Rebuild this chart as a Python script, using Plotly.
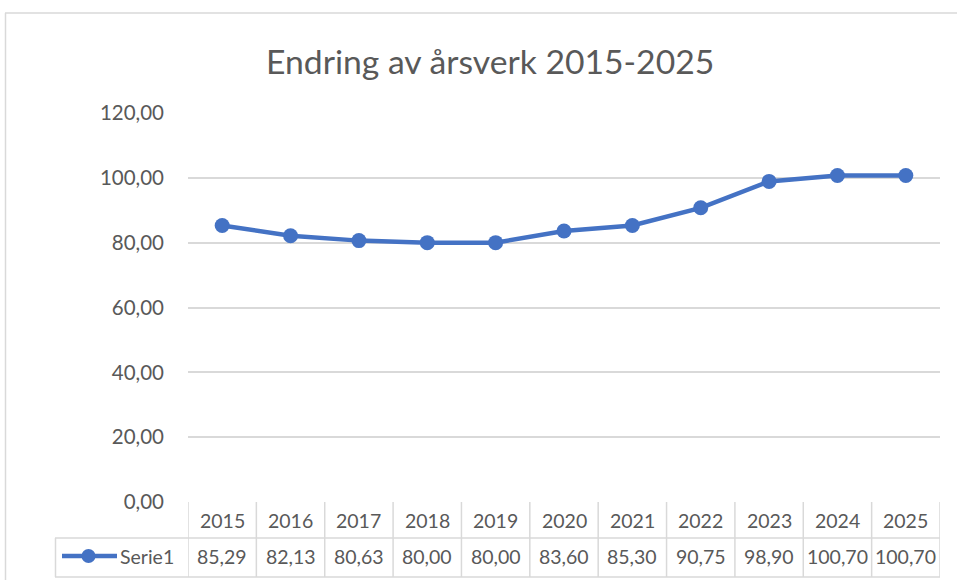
import plotly.graph_objects as go

years = ["2015", "2016", "2017", "2018", "2019", "2020", "2021", "2022", "2023", "2024", "2025"]
values = [85.29, 82.13, 80.63, 80.00, 80.00, 83.60, 85.30, 90.75, 98.90, 100.70, 100.70]
value_labels = ["85,29", "82,13", "80,63", "80,00", "80,00", "83,60", "85,30", "90,75", "98,90", "100,70", "100,70"]
series_name = "Serie1"
title = "Endring av årsverk 2015-2025"

W, H = 957, 580
BLUE = "#4472C4"
TXT = "#595959"
GRID = "#D9D9D9"
FONT = "Lato, Calibri, sans-serif"

def px_x(p):
    return p / W

def px_y(p):
    return 1 - p / H

x_idx = list(range(len(years)))

fig = go.Figure()
fig.add_trace(go.Scatter(
    x=x_idx, y=values, mode="lines+markers",
    line=dict(color=BLUE, width=4.5),
    marker=dict(color=BLUE, size=15),
    name=series_name, showlegend=False, hoverinfo="y",
))

shapes = []
# outer chart border (cropped)
shapes.append(dict(type="line", xref="paper", yref="paper", x0=px_x(5), x1=1.0, y0=px_y(13), y1=px_y(13),
                   line=dict(color=GRID, width=1.5)))
shapes.append(dict(type="line", xref="paper", yref="paper", x0=px_x(5.5), x1=px_x(5.5), y0=px_y(13), y1=0,
                   line=dict(color=GRID, width=1.5)))

y_top_tab = px_y(502)
y_mid_tab = px_y(538)
y_bot_tab = px_y(577)
n = len(years)
# horizontal table lines
shapes.append(dict(type="line", xref="x", yref="paper", x0=-0.5, x1=n - 0.5, y0=y_mid_tab, y1=y_mid_tab,
                   line=dict(color=GRID, width=1.5)))
shapes.append(dict(type="line", xref="x", yref="paper", x0=-0.5, x1=n - 0.5, y0=y_bot_tab, y1=y_bot_tab,
                   line=dict(color=GRID, width=1.5)))
# legend cell
shapes.append(dict(type="line", xref="paper", yref="paper", x0=px_x(55), x1=px_x(188), y0=y_mid_tab, y1=y_mid_tab,
                   line=dict(color=GRID, width=1.5)))
shapes.append(dict(type="line", xref="paper", yref="paper", x0=px_x(55), x1=px_x(188), y0=y_bot_tab, y1=y_bot_tab,
                   line=dict(color=GRID, width=1.5)))
shapes.append(dict(type="line", xref="paper", yref="paper", x0=px_x(55.5), x1=px_x(55.5), y0=y_mid_tab, y1=y_bot_tab,
                   line=dict(color=GRID, width=1.5)))
# vertical table lines
for k in range(n + 1):
    shapes.append(dict(type="line", xref="x", yref="paper", x0=k - 0.5, x1=k - 0.5, y0=y_top_tab, y1=y_bot_tab,
                       line=dict(color=GRID, width=1.5)))
# legend key
ly = px_y(556)
shapes.append(dict(type="line", xref="paper", yref="paper", x0=px_x(62), x1=px_x(117), y0=ly, y1=ly,
                   line=dict(color=BLUE, width=4.5)))
shapes.append(dict(type="circle", xref="paper", yref="paper", x0=px_x(81.5), x1=px_x(95.5), y0=px_y(563), y1=px_y(549),
                   fillcolor=BLUE, line=dict(color=BLUE, width=0)))

annotations = []
annotations.append(dict(text=title, xref="paper", yref="paper", x=px_x(490.5), y=px_y(61),
                        showarrow=False, xanchor="center", yanchor="middle",
                        font=dict(size=33.7, color=TXT, family=FONT)))
for i, (yr, vl) in enumerate(zip(years, value_labels)):
    annotations.append(dict(text=yr, xref="x", yref="paper", x=i, y=px_y(520), showarrow=False,
                            xanchor="center", yanchor="middle", font=dict(size=19.5, color=TXT, family=FONT)))
    annotations.append(dict(text=vl, xref="x", yref="paper", x=i, y=px_y(556), showarrow=False,
                            xanchor="center", yanchor="middle", font=dict(size=19.5, color=TXT, family=FONT)))
annotations.append(dict(text=series_name, xref="paper", yref="paper", x=px_x(118), y=px_y(556), showarrow=False,
                        xanchor="left", yanchor="middle", font=dict(size=19.5, color=TXT, family=FONT)))

fig.update_layout(
    width=W, height=H,
    margin=dict(l=0, r=0, t=0, b=0, pad=0, autoexpand=False),
    paper_bgcolor="white", plot_bgcolor="white",
    separators=",.",
    font=dict(family=FONT, color=TXT, size=18),
    xaxis=dict(domain=[px_x(188), px_x(940)], range=[-0.5, n - 0.5], showticklabels=False,
               showgrid=False, zeroline=False, showline=False, fixedrange=True, automargin=False),
    yaxis=dict(domain=[px_y(502), px_y(113)], range=[0, 120], dtick=20, tickformat=".2f",
               showgrid=True, gridcolor=GRID, gridwidth=1.5, zeroline=False, showline=False,
               ticks="", ticklabelstandoff=23, tickfont=dict(size=20.5, color=TXT, family=FONT),
               fixedrange=True, automargin=False),
    shapes=shapes,
    annotations=annotations,
)

fig.write_html("out.html",
               config={"displayModeBar": False},
               post_script="document.body.style.margin='0';document.body.style.overflow='hidden';")
